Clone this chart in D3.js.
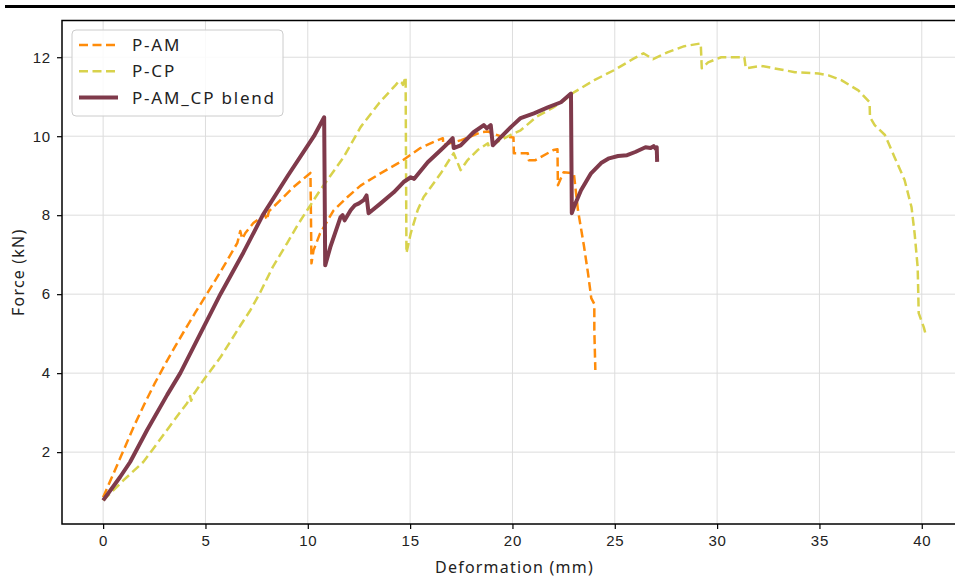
<!DOCTYPE html>
<html>
<head>
<meta charset="utf-8">
<script src="https://d3js.org/d3.v7.min.js"></script>
<style>
  body { margin: 0; background: #fff; }
  svg { display: block; font-family: 'Noto Sans', sans-serif; }
  .tick text { font-size: 15px; fill: #222; letter-spacing: 0.8px; }
</style>
</head>
<body>
<div id="chart"></div>
<script>
//DATA
var amDef = [0, 0.5, 1.0, 1.5, 2.0, 2.5, 3.0, 3.5, 4.0, 4.5, 5.0, 5.5, 6.0, 6.56, 6.7, 6.8, 6.95, 7.34, 7.9, 8.0, 8.1, 8.66, 9.3, 10.13, 10.18, 10.28, 10.6, 11.26, 11.94, 12.58, 13.55, 14.5, 15.5, 16.35, 16.6, 16.62, 17.5, 18.45, 18.8, 19.4, 20.05, 20.07, 20.75, 20.8, 21.1, 22.0, 22.2, 22.22, 22.5, 23.0, 23.2, 23.5, 23.7, 23.85, 24.0, 24.0, 24.05];
var amForce = [0.86, 1.45, 2.05, 2.65, 3.2, 3.72, 4.2, 4.66, 5.1, 5.53, 5.95, 6.37, 6.8, 7.3, 7.6, 7.4, 7.55, 7.8, 8.02, 7.88, 8.1, 8.38, 8.71, 9.07, 6.78, 7.11, 7.54, 8.12, 8.46, 8.75, 9.06, 9.34, 9.7, 9.9, 9.95, 9.78, 9.9, 10.1, 10.12, 10.0, 9.97, 9.57, 9.57, 9.39, 9.39, 9.65, 9.67, 8.76, 9.09, 9.06, 8.13, 7.2, 6.5, 5.9, 5.75, 5.1, 4.08];

var cpDef = [0, 1.0, 1.96, 2.64, 3.43, 4.1, 4.25, 4.3, 4.4, 4.9, 5.73, 6.7, 7.2, 7.68, 8.3, 9.0, 9.5, 10.0, 10.6, 11.75, 12.58, 13.5, 14.3, 14.45, 14.6, 14.65, 14.78, 14.82, 15.03, 15.37, 15.66, 16.15, 16.5, 16.84, 17.13, 17.47, 17.8, 18.3, 18.8, 18.85, 19.0, 19.43, 19.9, 20.4, 21.2, 22.0, 22.5, 23.0, 24.0, 24.96, 25.94, 26.4, 26.87, 27.6, 28.4, 29.2, 29.25, 29.56, 30.2, 31.33, 31.4, 32.16, 33.3, 33.8, 34.95, 35.44, 36.07, 36.9, 37.45, 37.47, 37.7, 38.2, 38.67, 39.16, 39.5, 39.65, 39.8, 39.85, 40.1, 40.2];
var cpForce = [0.78, 1.29, 1.75, 2.22, 2.78, 3.24, 3.42, 3.3, 3.45, 3.82, 4.4, 5.2, 5.6, 6.05, 6.7, 7.3, 7.75, 8.15, 8.63, 9.47, 10.23, 10.85, 11.3, 11.4, 11.35, 11.3, 11.5, 7.04, 7.54, 8.13, 8.46, 8.81, 9.06, 9.34, 9.57, 9.14, 9.39, 9.65, 9.82, 9.72, 9.78, 9.9, 10.03, 10.15, 10.5, 10.73, 10.9, 11.11, 11.42, 11.67, 11.97, 12.1, 11.95, 12.13, 12.28, 12.35, 11.72, 11.87, 12.0, 12.0, 11.72, 11.78, 11.67, 11.62, 11.59, 11.54, 11.42, 11.16, 10.86, 10.48, 10.28, 10.03, 9.47, 8.89, 8.2, 7.54, 6.68, 5.52, 5.16, 4.96];

var blendDef = [0, 0.83, 1.32, 2.15, 3.13, 3.77, 4.7, 5.73, 6.85, 7.8, 9.0, 10.3, 10.8, 10.85, 11.1, 11.6, 11.7, 11.8, 12.1, 12.3, 12.5, 12.73, 12.87, 12.97, 13.56, 14.2, 14.68, 15.03, 15.2, 15.86, 16.5, 16.84, 17.08, 17.13, 17.47, 18.1, 18.6, 18.75, 18.94, 19.04, 19.29, 19.92, 20.4, 21.05, 21.73, 22.37, 22.86, 22.9, 23.0, 23.35, 23.84, 24.33, 24.72, 25.16, 25.6, 26.0, 26.5, 26.75, 26.9, 27.0, 27.05, 27.07];
var blendForce = [0.78, 1.37, 1.75, 2.56, 3.45, 4.0, 4.95, 6.0, 7.05, 8.0, 8.98, 10.0, 10.48, 6.73, 7.19, 7.95, 8.0, 7.87, 8.13, 8.25, 8.3, 8.38, 8.5, 8.05, 8.3, 8.58, 8.84, 8.96, 8.92, 9.34, 9.65, 9.82, 9.95, 9.7, 9.77, 10.1, 10.28, 10.2, 10.28, 9.77, 9.9, 10.23, 10.46, 10.58, 10.73, 10.86, 11.08, 8.05, 8.2, 8.63, 9.06, 9.32, 9.44, 9.5, 9.52, 9.6, 9.72, 9.7, 9.75, 9.68, 9.72, 9.35];

var seriesNames = ['P-AM', 'P-CP', 'P-AM_CP blend'];
var xTicks = [0, 5, 10, 15, 20, 25, 30, 35, 40];
var yTicks = [2, 4, 6, 8, 10, 12];

//SET UP CHART
var width = 955,
    height = 579;

var plot = { left: 62, top: 20.5, right: 967, bottom: 524 };

var svg = d3.select('#chart').append('svg')
    .attr('width', width)
    .attr('height', height);

var x = d3.scaleLinear()
    .domain([-2.01, 42.21])
    .range([plot.left, plot.right]);

var y = d3.scaleLinear()
    .domain([0.18, 12.93])
    .range([plot.bottom, plot.top]);

//cropped rule at the very top
svg.append('rect')
    .attr('x', 5)
    .attr('y', 5)
    .attr('width', 950)
    .attr('height', 3)
    .attr('fill', '#000');

//grid
svg.append('g')
    .selectAll('line')
    .data(xTicks)
  .enter().append('line')
    .attr('x1', function (d) { return x(d); })
    .attr('x2', function (d) { return x(d); })
    .attr('y1', plot.top)
    .attr('y2', plot.bottom)
    .attr('stroke', '#dddddd')
    .attr('stroke-width', 1);

svg.append('g')
    .selectAll('line')
    .data(yTicks)
  .enter().append('line')
    .attr('x1', plot.left)
    .attr('x2', plot.right)
    .attr('y1', function (d) { return y(d); })
    .attr('y2', function (d) { return y(d); })
    .attr('stroke', '#dddddd')
    .attr('stroke-width', 1);

//LINES
var series = [
  { name: seriesNames[0], def: amDef, force: amForce, color: '#ff8c0a', width: 2.5, dash: '9,4.5' },
  { name: seriesNames[1], def: cpDef, force: cpForce, color: '#d8d24c', width: 2.5, dash: '9,4.5' },
  { name: seriesNames[2], def: blendDef, force: blendForce, color: '#7f3a4b', width: 4, dash: null }
];

var line = d3.line()
    .x(function (d) { return x(d[0]); })
    .y(function (d) { return y(d[1]); });

svg.append('defs').append('clipPath')
    .attr('id', 'clip')
  .append('rect')
    .attr('x', plot.left)
    .attr('y', plot.top)
    .attr('width', plot.right - plot.left)
    .attr('height', plot.bottom - plot.top);

svg.append('g')
    .attr('clip-path', 'url(#clip)')
    .selectAll('path')
    .data(series)
  .enter().append('path')
    .attr('d', function (s) { return line(d3.zip(s.def, s.force)); })
    .attr('fill', 'none')
    .attr('stroke', function (s) { return s.color; })
    .attr('stroke-width', function (s) { return s.width; })
    .attr('stroke-dasharray', function (s) { return s.dash; })
    .attr('stroke-linejoin', 'round');

//AXES
var xAxis = svg.append('g')
    .attr('transform', 'translate(0,' + plot.bottom + ')')
    .call(d3.axisBottom(x).tickValues(xTicks).tickSize(5).tickPadding(6));

var yAxis = svg.append('g')
    .attr('transform', 'translate(' + plot.left + ',0)')
    .call(d3.axisLeft(y).tickValues(yTicks).tickSize(5).tickPadding(6));

xAxis.select('.domain').remove();
yAxis.select('.domain').remove();
svg.selectAll('.tick line').attr('stroke', '#000').attr('stroke-width', 1.2);

//frame
svg.append('rect')
    .attr('x', plot.left)
    .attr('y', plot.top)
    .attr('width', plot.right - plot.left)
    .attr('height', plot.bottom - plot.top)
    .attr('fill', 'none')
    .attr('stroke', '#000')
    .attr('stroke-width', 1.5);

svg.append('text')
    .attr('x', (plot.left + plot.right) / 2)
    .attr('y', 573)
    .attr('text-anchor', 'middle')
    .attr('font-size', 16)
    .attr('letter-spacing', 1.2)
    .attr('fill', '#222')
    .text('Deformation (mm)');

svg.append('text')
    .attr('transform', 'translate(24,' + (plot.top + plot.bottom) / 2 + ') rotate(-90)')
    .attr('text-anchor', 'middle')
    .attr('font-size', 16)
    .attr('letter-spacing', 1.2)
    .attr('fill', '#222')
    .text('Force (kN)');

//LEGEND
var legend = svg.append('g');

legend.append('rect')
    .attr('x', 72)
    .attr('y', 30)
    .attr('width', 211)
    .attr('height', 86)
    .attr('rx', 4)
    .attr('fill', 'rgba(255,255,255,0.85)')
    .attr('stroke', '#cccccc');

var item = legend.selectAll('.item')
    .data(series)
  .enter().append('g')
    .attr('transform', function (s, i) { return 'translate(0,' + (45 + i * 26.3) + ')'; });

item.append('line')
    .attr('x1', 79)
    .attr('x2', 118)
    .attr('stroke', function (s) { return s.color; })
    .attr('stroke-width', function (s) { return s.width; })
    .attr('stroke-dasharray', function (s) { return s.dash; });

item.append('text')
    .attr('x', 132)
    .attr('dy', '0.35em')
    .attr('font-size', 17)
    .attr('letter-spacing', 1.8)
    .attr('fill', '#222')
    .text(function (s) { return s.name; });
</script>
</body>
</html>
